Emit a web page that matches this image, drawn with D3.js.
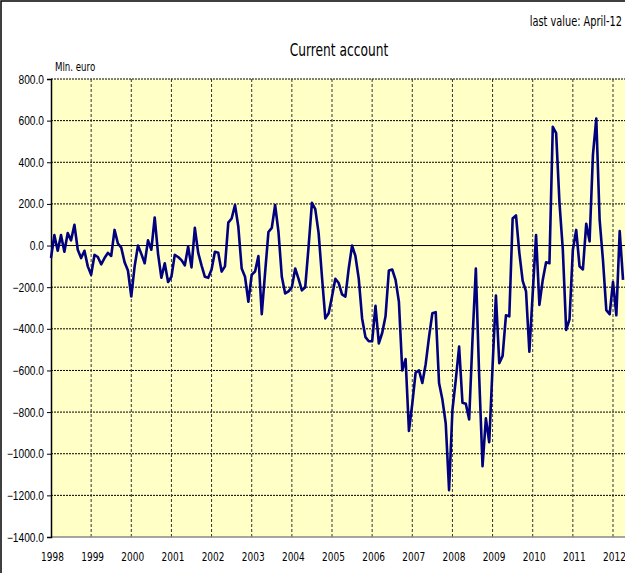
<!DOCTYPE html>
<html>
<head>
<meta charset="utf-8">
<script src="https://cdn.jsdelivr.net/npm/d3@7"></script>
<style>
  body { margin: 0; background: #fff; }
  svg { display: block; font-family: "Liberation Sans Narrow", "DejaVu Sans", sans-serif; }
</style>
</head>
<body>
<div id="chart"></div>
<script>
// monthly current account, Mln. euro, Jan 1998 - Apr 2012
var years = ["1998","1999","2000","2001","2002","2003","2004","2005","2006","2007","2008","2009","2010","2011","2012"];
var v1998 = [-60, 50, -25, 50, -30, 60, 25, 100, -20, -60, -25, -100];
var v1999 = [-140, -45, -55, -90, -60, -35, -50, 75, 10, -10, -80, -120];
var v2000 = [-245, -100, 0, -40, -85, 25, -20, 135, -40, -155, -85, -175];
var v2001 = [-150, -45, -55, -70, -95, -5, -105, 85, -35, -95, -150, -155];
var v2002 = [-115, -30, -35, -125, -100, 110, 130, 195, 90, -110, -150, -270];
var v2003 = [-140, -125, -50, -330, -130, 65, 85, 195, 65, -150, -230, -220];
var v2004 = [-200, -110, -160, -215, -200, -5, 205, 175, 60, -150, -350, -325];
var v2005 = [-245, -160, -180, -235, -245, -110, 0, -50, -160, -350, -440, -460];
var v2006 = [-460, -290, -470, -420, -340, -120, -115, -165, -270, -600, -545, -890];
var v2007 = [-760, -610, -600, -660, -570, -440, -325, -320, -660, -740, -855, -1175];
var v2008 = [-790, -645, -485, -755, -760, -835, -450, -110, -630, -1060, -830, -945];
var v2009 = [-580, -240, -565, -530, -335, -340, 130, 145, -35, -170, -220, -510];
var v2010 = [-230, 50, -285, -165, -80, -85, 570, 540, 205, -20, -405, -355];
var v2011 = [-20, 75, -100, -115, 105, 20, 435, 610, 125, -70, -310, -330];
var v2012 = [-175, -335, 70, -165];
var yTicks = [800, 600, 400, 200, 0, -200, -400, -600, -800, -1000, -1200, -1400];

var values = [].concat(v1998, v1999, v2000, v2001, v2002, v2003, v2004, v2005,
    v2006, v2007, v2008, v2009, v2010, v2011, v2012);

var W = 625, H = 573;
var svg = d3.select("#chart").append("svg")
    .attr("width", W)
    .attr("height", H);

// squeeze a text horizontally so it looks like a narrow font
function narrow(sel, k) {
    sel.each(function() {
        var t = d3.select(this);
        var tx = +t.attr("x") || 0, ty = +t.attr("y") || 0;
        t.attr("x", 0).attr("y", 0)
            .attr("transform", "translate(" + tx + "," + ty + ") scale(" + k + ",1)");
    });
}

// outer frame (right and bottom edges fall outside the picture)
svg.append("rect")
    .attr("x", 1).attr("y", 1)
    .attr("width", W + 20).attr("height", H + 20)
    .attr("fill", "#fff")
    .attr("stroke", "#000")
    .attr("stroke-width", 1.5);

var x = d3.scaleLinear().domain([0, 168]).range([51, 613]);
var y = d3.scaleLinear().domain([-1400, 800]).range([537, 79]);

// plot area
svg.append("rect")
    .attr("x", x(0)).attr("y", y(800))
    .attr("width", W + 10 - x(0)).attr("height", y(-1400) - y(800))
    .attr("fill", "#ffffc6");

// horizontal grid
svg.append("g").selectAll("line")
    .data(yTicks.filter(function(d){ return d != 0 && d != -1400; }))
    .enter().append("line")
    .attr("x1", x(0)).attr("x2", W + 10)
    .attr("y1", function(d){ return y(d); })
    .attr("y2", function(d){ return y(d); })
    .attr("stroke", "#000")
    .attr("stroke-width", 1)
    .attr("stroke-dasharray", "2,1");

// vertical grid
svg.append("g").selectAll("line")
    .data(years.slice(1))
    .enter().append("line")
    .attr("x1", function(d, i){ return x((i + 1) * 12); })
    .attr("x2", function(d, i){ return x((i + 1) * 12); })
    .attr("y1", y(800)).attr("y2", y(-1400))
    .attr("stroke", "#333")
    .attr("stroke-width", 1)
    .attr("stroke-dasharray", "3,2");

// zero line
svg.append("line")
    .attr("x1", x(0)).attr("x2", W + 10)
    .attr("y1", y(0)).attr("y2", y(0))
    .attr("stroke", "#000").attr("stroke-width", 1);

// bottom axis line
svg.append("line")
    .attr("x1", x(0)).attr("x2", W + 10)
    .attr("y1", y(-1400)).attr("y2", y(-1400))
    .attr("stroke", "#888").attr("stroke-width", 1.5);

// y axis
var yAxis = d3.axisLeft(y)
    .tickValues(yTicks)
    .tickSize(4)
    .tickFormat(d3.format(".1f"));
var gy = svg.append("g")
    .attr("transform", "translate(" + x(0) + ",0)")
    .call(yAxis);
gy.select(".domain").attr("stroke", "#000").attr("stroke-width", 1.5);
gy.selectAll("text")
    .attr("font-size", 12)
    .attr("font-family", null)
    .attr("fill", "#000")
    .attr("dy", null)
    .attr("x", -7)
    .attr("y", 4)
    .call(narrow, 0.85);

// x labels
svg.append("g").selectAll("text")
    .data(years)
    .enter().append("text")
    .attr("x", function(d, i){ return x(i * 12) + 1.5; })
    .attr("y", 561)
    .attr("text-anchor", "middle")
    .attr("font-size", 12)
    .text(function(d){ return d; })
    .call(narrow, 0.75);

// line
var line = d3.line()
    .x(function(d, i){ return x(i); })
    .y(function(d){ return y(d); });

svg.append("path")
    .datum(values)
    .attr("d", line)
    .attr("fill", "none")
    .attr("stroke", "#000080")
    .attr("stroke-width", 2.6)
    .attr("stroke-linejoin", "round");

// texts
svg.append("text")
    .attr("x", 339).attr("y", 56)
    .attr("text-anchor", "middle")
    .attr("font-size", 18)
    .text("Current account")
    .call(narrow, 0.68);

svg.append("text")
    .attr("x", 622).attr("y", 26)
    .attr("text-anchor", "end")
    .attr("font-size", 14)
    .text("last value: April-12")
    .call(narrow, 0.7);

svg.append("text")
    .attr("x", 55).attr("y", 71)
    .attr("font-size", 12)
    .text("Mln. euro")
    .call(narrow, 0.72);
</script>
</body>
</html>
